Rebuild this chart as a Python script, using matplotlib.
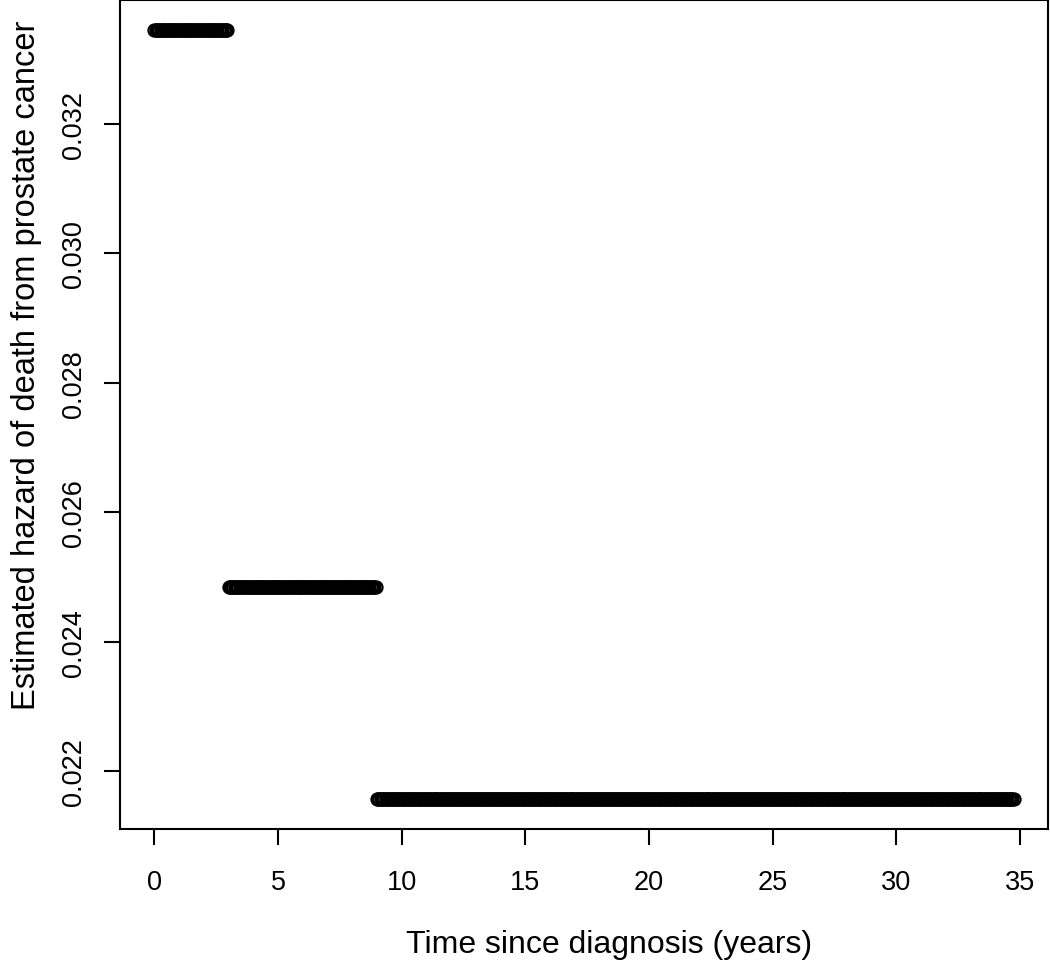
import numpy as np
import matplotlib
matplotlib.use("Agg")
import matplotlib.pyplot as plt

# Piecewise-constant estimated hazard
seg_start = [0.0, 3.0, 9.0]
seg_end = [3.0, 9.0, 34.75]
seg_hazard = [0.03344, 0.02484, 0.02158]
step = 0.05  # evaluation grid of time points (years)

xticks = [0, 5, 10, 15, 20, 25, 30, 35]
yticks = [0.022, 0.024, 0.026, 0.028, 0.030, 0.032]

plt.rcParams['font.family'] = ['Liberation Sans', 'DejaVu Sans']

fig = plt.figure(figsize=(10.5, 9.62), dpi=100)
ax = fig.add_axes([120/1050, 1 - 830/962, (1048-120)/1050, (830-1)/962])

times, haz = [], []
for s, e, h in zip(seg_start, seg_end, seg_hazard):
    t = np.arange(s, e, step)
    if s == seg_start[-1]:
        t = np.append(t, e)
    times.extend(t)
    haz.extend([h] * len(t))

ax.plot(times, haz, linestyle='none', marker='o', markersize=8.8,
        markerfacecolor='none', markeredgecolor='black', markeredgewidth=1.5)

ax.set_xlim(-1.39, 36.14)
ax.set_ylim(0.02111, 0.03391)
ax.set_xticks(xticks)
ax.set_xticklabels([str(v) for v in xticks])
ax.set_yticks(yticks)
ax.set_yticklabels([f"{v:.3f}" for v in yticks], rotation=90, va='center')

for sp in ax.spines.values():
    sp.set_linewidth(1.5)
ax.tick_params(axis='both', length=11.5, width=1.5, labelsize=19.5)
ax.tick_params(axis='x', pad=17)
ax.tick_params(axis='y', pad=12)

fig.text(609/1050, 1 - 945/962, "Time since diagnosis (years)", ha='center', va='center', fontsize=23)
fig.text(27/1050, 1 - 365/962, "Estimated hazard of death from prostate cancer", ha='center', va='center',
         rotation=90, fontsize=23.5)

fig.savefig("out.png", dpi=100)
